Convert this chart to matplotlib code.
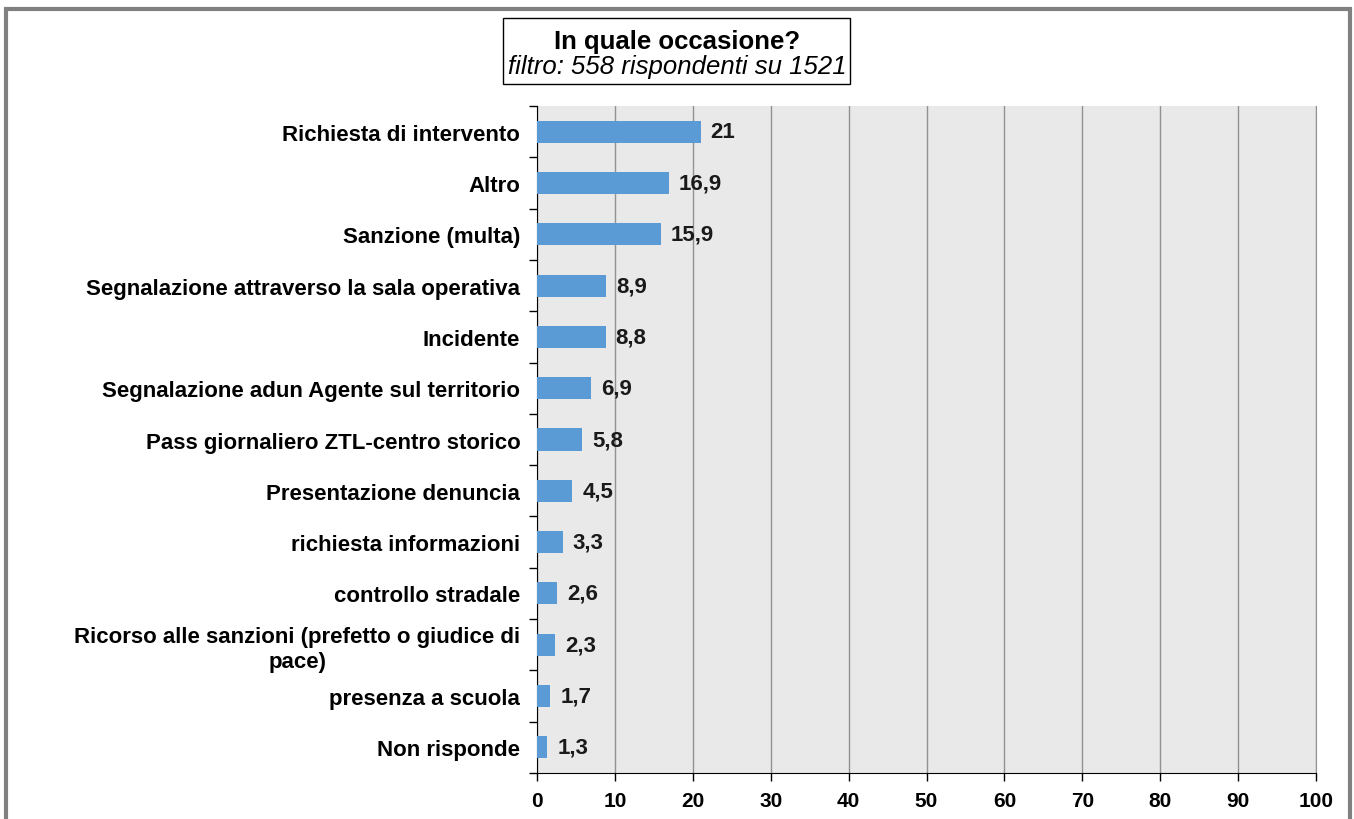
import matplotlib.pyplot as plt
from matplotlib.patches import Rectangle

plt.rcParams['font.family'] = ['Liberation Sans', 'DejaVu Sans']

# answers, top to bottom
categories = [
    "Richiesta di intervento",
    "Altro",
    "Sanzione (multa)",
    "Segnalazione attraverso la sala operativa",
    "Incidente",
    "Segnalazione adun Agente sul territorio",
    "Pass giornaliero ZTL-centro storico",
    "Presentazione denuncia",
    "richiesta informazioni",
    "controllo stradale",
    "Ricorso alle sanzioni (prefetto o giudice di\npace)",
    "presenza a scuola",
    "Non risponde",
]
values = [21, 16.9, 15.9, 8.9, 8.8, 6.9, 5.8, 4.5, 3.3, 2.6, 2.3, 1.7, 1.3]
x_ticks = list(range(0, 101, 10))

W, H = 1354, 820
fig = plt.figure(figsize=(W / 100, H / 100), dpi=100)

# outer grey frame
fig.patches.append(Rectangle((6 / W, -0.02), (1344 / W), 1 - 9.5 / H + 0.02,
                             transform=fig.transFigure, fill=False,
                             edgecolor='#808080', linewidth=3, zorder=0))

ax = fig.add_axes([537 / W, 1 - 774 / H, (1316 - 537) / W, (774 - 107) / H])
ax.set_facecolor('#e9e9e9')

n = len(categories)
ypos = list(range(n))
ax.barh(ypos, values, height=0.43, color='#5b9bd5', zorder=3)

for y, v in zip(ypos, values):
    txt = f"{v:g}".replace('.', ',')
    ax.text(v + 1.3, y, txt, va='center', ha='left', fontsize=16,
            fontweight='bold', color='#1a1a1a', zorder=4)

ax.set_xlim(0, 100)
ax.set_ylim(n - 0.5, -0.5)
ax.set_xticks(x_ticks)
ax.set_xticklabels([str(t) for t in x_ticks], fontsize=15, fontweight='bold')
ax.xaxis.grid(True, color='#929292', linewidth=1, zorder=1)
ax.set_axisbelow(True)

# category labels, ticks sit between the bars
ax.set_yticks(ypos)
ax.set_yticklabels(categories, fontsize=16, fontweight='bold',
                   multialignment='center', linespacing=1.25)
ax.tick_params(axis='y', length=0, pad=12)
ax.set_yticks([i - 0.5 for i in range(n + 1)], minor=True)
ax.tick_params(axis='y', which='minor', length=6, width=1, direction='out')
ax.tick_params(axis='x', length=6, width=1, direction='out', pad=7)

ax.spines['top'].set_visible(False)
ax.spines['right'].set_color('#929292')
ax.spines['left'].set_color('black')
ax.spines['bottom'].set_color('black')

# boxed title
fig.text(677 / W, 1 - 54 / H,
         "In quale occasione?",
         ha='center', va='bottom', fontsize=18.5, fontweight='bold')
fig.text(677 / W, 1 - 55 / H,
         "filtro: 558 rispondenti su 1521",
         ha='center', va='top', fontsize=18.5, style='italic')
fig.patches.append(Rectangle((503 / W, 1 - 85 / H), (850 - 503) / W, 66 / H,
                             transform=fig.transFigure, fill=False,
                             edgecolor='black', linewidth=1))

fig.savefig('out.png', dpi=100, facecolor='white')
